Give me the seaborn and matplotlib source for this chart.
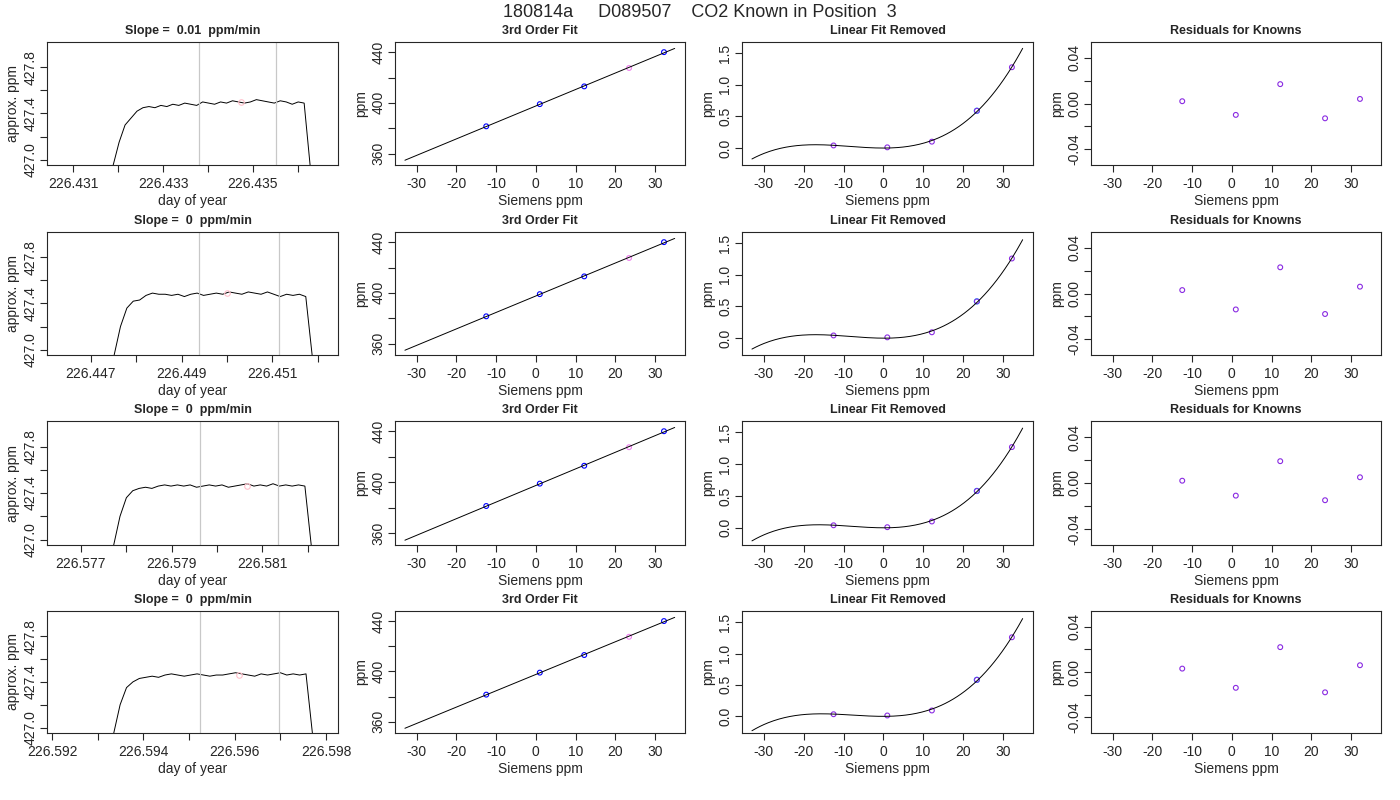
import numpy as np
import matplotlib
matplotlib.use('Agg')
import matplotlib.pyplot as plt
import seaborn as sns

sns.set_style('ticks')
plt.rcParams['font.family'] = ['Liberation Sans', 'DejaVu Sans']
plt.rcParams['axes.unicode_minus'] = False

# ------------------------------------------------------------------------------
slopes = ['0.01', '0', '0', '0']
trace_start = [226.43189, 226.44751, 226.57772, 226.59335]
trace_end = [226.43627, 226.45188, 226.58208, 226.59770]
xlims = [(226.43042, 226.43689), (226.44603, 226.45245), (226.57625, 226.58267), (226.59189, 226.59826)]
xticks = [[226.431, 226.432, 226.433, 226.434, 226.435, 226.436],
          [226.447, 226.448, 226.449, 226.450, 226.451, 226.452],
          [226.577, 226.578, 226.579, 226.580, 226.581, 226.582],
          [226.592, 226.593, 226.594, 226.595, 226.596, 226.597, 226.598]]
xlabels_shown = [[226.431, 226.433, 226.435],
                 [226.447, 226.449, 226.451],
                 [226.577, 226.579, 226.581],
                 [226.592, 226.594, 226.596, 226.598]]
vlines = [(226.43380, 226.43551), (226.44939, 226.45114), (226.57962, 226.58135), (226.59524, 226.59696)]
traces = [
    [426.95, 427.15, 427.30, 427.36, 427.42, 427.45, 427.46, 427.45, 427.47, 427.46, 427.48,
     427.47, 427.49, 427.48, 427.47, 427.50, 427.49, 427.48, 427.50, 427.49, 427.51, 427.50,
     427.49, 427.50, 427.52, 427.51, 427.50, 427.49, 427.51, 427.50, 427.48, 427.50, 427.49, 426.95],
    [426.95, 427.20, 427.36, 427.42, 427.43, 427.47, 427.49, 427.48, 427.48, 427.47, 427.48,
     427.46, 427.48, 427.49, 427.47, 427.48, 427.49, 427.48, 427.50, 427.49, 427.48, 427.50,
     427.49, 427.48, 427.50, 427.48, 427.46, 427.48, 427.47, 427.48, 427.46, 426.95],
    [426.95, 427.20, 427.36, 427.42, 427.44, 427.45, 427.44, 427.46, 427.47, 427.46, 427.47,
     427.46, 427.47, 427.45, 427.46, 427.47, 427.46, 427.47, 427.45, 427.46, 427.47, 427.48,
     427.46, 427.47, 427.46, 427.48, 427.46, 427.47, 427.46, 427.47, 427.46, 426.95],
    [426.95, 427.20, 427.35, 427.40, 427.43, 427.44, 427.45, 427.44, 427.46, 427.47, 427.46,
     427.45, 427.46, 427.47, 427.46, 427.45, 427.46, 427.46, 427.47, 427.48, 427.47, 427.46,
     427.45, 427.47, 427.46, 427.47, 427.48, 427.46, 427.47, 427.46, 427.47, 426.95],
]
marker_pt = [(226.43473, 427.50), (226.45000, 427.49), (226.58066, 427.46), (226.59609, 427.46)]

siemens = [-12.5, 1.0, 12.2, 23.5, 32.3]
known_ppm = [381.5, 399.0, 413.0, 427.5, 440.0]
lin_removed = [[0.04, 0.01, 0.10, 0.59, 1.28],
               [0.04, 0.01, 0.09, 0.58, 1.26],
               [0.04, 0.01, 0.10, 0.58, 1.27],
               [0.03, 0.01, 0.09, 0.58, 1.26]]
residuals = [[0.002, -0.010, 0.017, -0.013, 0.004],
             [0.003, -0.014, 0.023, -0.018, 0.006],
             [0.002, -0.011, 0.019, -0.015, 0.005],
             [0.003, -0.014, 0.022, -0.018, 0.006]]


# ------------------------------------------------------------------------------
def r_style(ax):
    for s in ax.spines.values():
        s.set_visible(True)
        s.set_linewidth(0.8)
    ax.tick_params(labelsize=10, length=5, width=0.8)
    ax.tick_params(axis='x', pad=4)
    ax.tick_params(axis='y', labelrotation=90, pad=2)
    for lab in ax.get_yticklabels():
        lab.set_va('center')


def fmt_labels(ticks, shown, fmt):
    return [fmt.format(t) if any(abs(t - s) < 1e-9 for s in shown) else '' for t in ticks]


fig = plt.figure(figsize=(14, 8), dpi=100)
fig.text(0.5, 0.984, '180814a     D089507    CO2 Known in Position  3', ha='center', va='center', fontsize=13)

col_x = [(47, 338), (395, 685), (742, 1033), (1091, 1381)]
row_y = [(42, 165), (232, 355), (421, 545), (611, 733)]
xx = np.linspace(-33, 35, 200)
sx_lim = (-35.5, 37.6)

for r in range(4):
    y0, y1 = row_y[r]
    axs = []
    for c in range(4):
        x0, x1 = col_x[c]
        axs.append(fig.add_axes([x0 / 1400, 1 - y1 / 800, (x1 - x0) / 1400, (y1 - y0) / 800]))
    a1, a2, a3, a4 = axs

    # time trace
    days = np.linspace(trace_start[r], trace_end[r], len(traces[r]))
    sns.lineplot(x=days, y=traces[r], ax=a1, color='black', linewidth=0.7)
    for v in vlines[r]:
        a1.axvline(v, color='#c8c8c8', linewidth=0.9)
    a1.plot(*marker_pt[r], 'o', mfc='none', mec='pink', ms=4, mew=0.8)
    a1.set_xlim(*xlims[r])
    a1.set_ylim(426.953, 428.02)
    a1.set_xticks(xticks[r])
    a1.set_xticklabels(fmt_labels(xticks[r], xlabels_shown[r], '{:.3f}'))
    a1.set_yticks([427.0, 427.2, 427.4, 427.6, 427.8])
    a1.set_yticklabels(['427.0', '', '427.4', '', '427.8'])
    a1.set_xlabel('day of year', fontsize=10, labelpad=2)
    a1.set_ylabel('approx. ppm', fontsize=10, labelpad=2)
    a1.set_title('Slope =  {}  ppm/min'.format(slopes[r]), fontsize=9, fontweight='bold', pad=6)

    # fit of knowns
    p1 = np.polyfit(siemens, known_ppm, 1)
    sns.lineplot(x=xx, y=np.polyval(p1, xx), ax=a2, color='black', linewidth=0.7)
    sns.scatterplot(x=siemens[:3] + siemens[4:], y=known_ppm[:3] + known_ppm[4:], ax=a2,
                    facecolor='none', edgecolor='blue', s=12, linewidth=0.8)
    sns.scatterplot(x=[siemens[3]], y=[known_ppm[3]], ax=a2,
                    facecolor='none', edgecolor='violet', s=12, linewidth=0.8)
    a2.set_xlim(*sx_lim)
    a2.set_ylim(351, 448)
    a2.set_yticks([360, 380, 400, 420, 440])
    a2.set_yticklabels(['360', '', '400', '', '440'])
    a2.set_xticks(range(-30, 31, 10))
    a2.set_xlabel('Siemens ppm', fontsize=10, labelpad=2)
    a2.set_ylabel('ppm', fontsize=10, labelpad=2)
    a2.set_title('3rd Order Fit', fontsize=9, fontweight='bold', pad=6)

    # linear fit removed
    pc = np.polyfit(siemens, lin_removed[r], 3)
    sns.lineplot(x=xx, y=np.polyval(pc, xx), ax=a3, color='black', linewidth=0.7)
    sns.scatterplot(x=[siemens[3]], y=[lin_removed[r][3]], ax=a3,
                    facecolor='none', edgecolor='deepskyblue', s=14, linewidth=0.8)
    sns.scatterplot(x=siemens, y=lin_removed[r], ax=a3,
                    facecolor='none', edgecolor='blueviolet', s=12, linewidth=0.8)
    a3.set_xlim(*sx_lim)
    a3.set_ylim(-0.27, 1.68)
    a3.set_yticks([0.0, 0.5, 1.0, 1.5])
    a3.set_xticks(range(-30, 31, 10))
    a3.set_xlabel('Siemens ppm', fontsize=10, labelpad=2)
    a3.set_ylabel('ppm', fontsize=10, labelpad=2)
    a3.set_title('Linear Fit Removed', fontsize=9, fontweight='bold', pad=6)

    # residuals
    sns.scatterplot(x=siemens, y=residuals[r], ax=a4,
                    facecolor='none', edgecolor='blueviolet', s=12, linewidth=0.8)
    a4.set_xlim(*sx_lim)
    a4.set_ylim(-0.054, 0.054)
    a4.set_yticks([-0.04, -0.02, 0.0, 0.02, 0.04])
    a4.set_yticklabels(['-0.04', '', '0.00', '', '0.04'])
    a4.set_xticks(range(-30, 31, 10))
    a4.set_xlabel('Siemens ppm', fontsize=10, labelpad=2)
    a4.set_ylabel('ppm', fontsize=10, labelpad=2)
    a4.set_title('Residuals for Knowns', fontsize=9, fontweight='bold', pad=6)

    for a in axs:
        r_style(a)

fig.savefig('out.png', dpi=100)
